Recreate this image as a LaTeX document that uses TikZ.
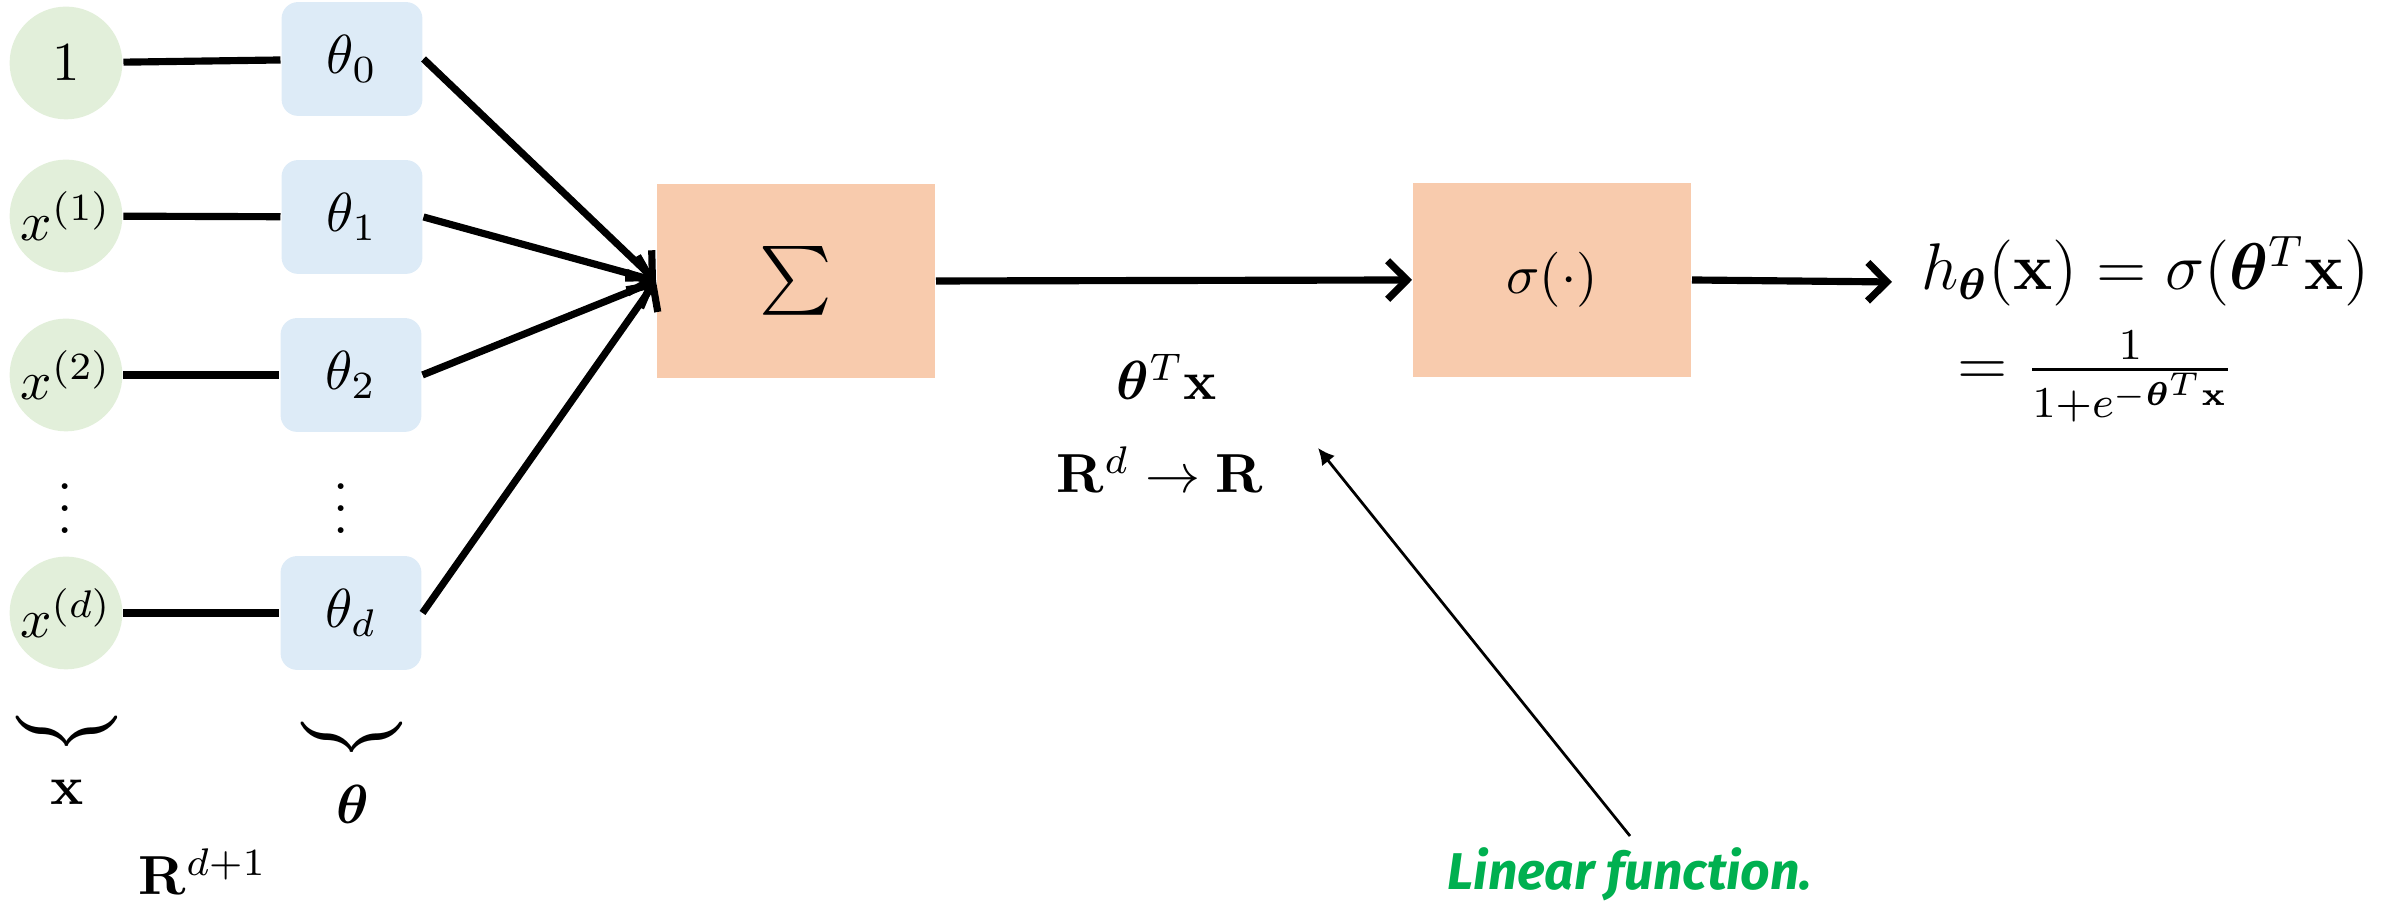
\documentclass[tikz,border=0pt]{standalone}
\usepackage{amsmath,bm,graphicx}
\usepackage[no-math]{fontspec}
\newfontfamily\handfont{Fira Sans}
\usetikzlibrary{arrows.meta}
\definecolor{cgreen}{RGB}{226,239,218}
\definecolor{cblue}{RGB}{221,235,247}
\definecolor{corange}{RGB}{248,203,173}
\definecolor{lfgreen}{RGB}{0,176,80}
\begin{document}
\begin{tikzpicture}[x=0.1818pt,y=-0.1818pt,
  inp/.style={circle,fill=cgreen,minimum size=20.5pt,inner sep=0pt},
  wgt/.style={rectangle,rounded corners=3pt,fill=cblue,minimum width=25.6pt,minimum height=20.7pt,inner sep=0pt},
  op/.style={rectangle,fill=corange,minimum width=50.5pt,minimum height=35.3pt,inner sep=0pt},
  conn/.style={line width=1.3pt},
  arr/.style={line width=1.3pt,-{Straight Barb[length=3.5pt,width=7pt]}},
  thinarr/.style={line width=0.5pt,-{Latex[length=3pt,width=3pt]}},
  lbl/.style={inner sep=0pt,anchor=base}
]
\useasboundingbox (0,0) rectangle (2395,902);
\node[inp] (c0) at (66,63) {$1$};
\node[inp] (c1) at (66,216) {$x^{(1)}$};
\node[inp] (c2) at (66,375) {$x^{(2)}$};
\node[inp] (cd) at (66,613) {$x^{(d)}$};
\node[wgt] (t0) at (352,59) {$\theta_0$};
\node[wgt] (t1) at (352,217) {$\theta_1$};
\node[wgt] (t2) at (351,375) {$\theta_2$};
\node[wgt] (td) at (351,613) {$\theta_d$};
\node (vx) at (65,492) {$\vdots$};
\node (vt) at (341,492) {$\vdots$};
\node[op] (S) at (796,281) {\scalebox{1.25}{$\sum$}};
\node[op] (sig) at (1552,280) {$\sigma(\cdot)$};
\coordinate (outtip) at (1892,282);
\node[lbl,anchor=base west,font=\large] (h) at (1920,290) {$h_{\bm\theta}(\mathbf{x})=\sigma(\bm\theta^T\mathbf{x})$};
\node[lbl,anchor=base west,font=\large] (hf) at (1956,386) {$=\frac{1}{1+e^{-\bm\theta^T\mathbf{x}}}$};
\node[lbl] (tx) at (1167,400) {$\bm\theta^T\mathbf{x}$};
\node[lbl] (rr) at (1160,493) {$\mathbf{R}^d\rightarrow\mathbf{R}$};
\node (bx) at (67,731) {$\underbrace{\hspace{17pt}}$};
\node (bt) at (352,737) {$\underbrace{\hspace{17pt}}$};
\node (lx) at (67,792) {$\mathbf{x}$};
\node (lt) at (353,804) {$\bm\theta$};
\node[lbl] (rd) at (203,895) {$\mathbf{R}^{d+1}$};
\node[lbl,text=lfgreen,font=\handfont\bfseries\itshape\fontsize{9.4}{11}\selectfont] (lf) at (1630,890) {Linear function.};
\coordinate (lftip) at (1318,448);
\draw[conn] (c0) -- (t0);
\draw[conn] (c1) -- (t1);
\draw[conn] (c2) -- (t2);
\draw[conn] (cd) -- (td);
\draw[arr] (t0.east) -- (S.west);
\draw[arr] (t1.east) -- (S.west);
\draw[arr] (t2.east) -- (S.west);
\draw[arr] (td.east) -- (S.west);
\draw[arr] (S.east) -- (sig.west);
\draw[arr] (sig.east) -- (outtip);
\draw[thinarr] ([yshift=2pt]lf.north) -- (lftip);
\end{tikzpicture}
\end{document}
